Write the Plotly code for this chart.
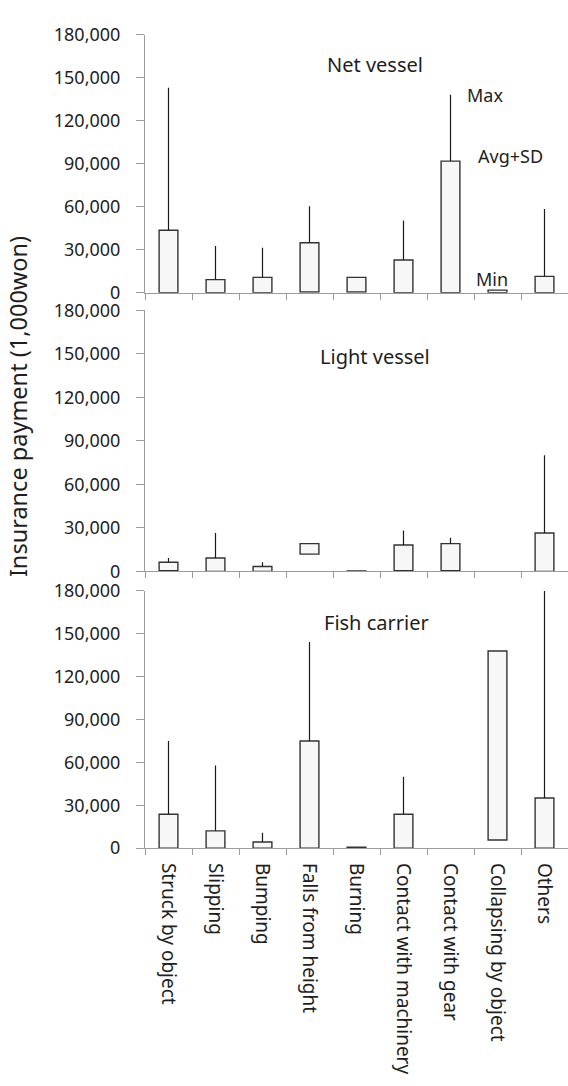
import plotly.graph_objects as go

categories = ["Struck by object", "Slipping", "Bumping", "Falls from height", "Burning",
              "Contact with machinery", "Contact with gear", "Collapsing by object", "Others"]

panel_titles = ["Net vessel", "Light vessel", "Fish carrier"]

# Net vessel
net_min = [0, 0, 0, 500, 500, 0, 0, 0, 0]
net_top = [43500, 9100, 10700, 34800, 10700, 22800, 91700, 1800, 11400]
net_max = [142900, 32500, 31400, 60300, None, 50300, 138000, None, 58300]

# Light vessel
light_min = [450, 0, 0, 11900, 0, 450, 450, None, 0]
light_top = [6300, 9200, 3400, 19100, 300, 18200, 19100, None, 26500]
light_max = [9200, 26500, 6300, None, None, 28100, 23200, None, 80100]

# Fish carrier
fish_min = [0, 0, 0, 0, 0, 0, None, 5700, 0]
fish_top = [23700, 12100, 4300, 75000, 700, 23700, None, 138000, 35100]
fish_max = [75000, 57900, 10700, 144200, None, 50000, None, None, 180000]

y_ticks = [0, 30000, 60000, 90000, 120000, 150000, 180000]

W, H = 568, 1086
FONT = "Noto Sans"
TXT = "#1e1e1e"
AX = "#9c9c9c"

panels = [(net_min, net_top, net_max), (light_min, light_top, light_max), (fish_min, fish_top, fish_max)]
# pixel positions (top, bottom) of each plot area
px = [(22, 286), (304, 571), (591, 854)]

fig = go.Figure()
for i, (mins, tops, maxs) in enumerate(panels):
    xa = "x" if i == 0 else f"x{i+1}"
    ya = "y" if i == 0 else f"y{i+1}"
    cx, cb, ch = [], [], []
    for c, lo, hi in zip(categories, mins, tops):
        if lo is None or hi is None:
            continue
        cx.append(c); cb.append(lo); ch.append(max(hi - lo, 250))
    fig.add_trace(go.Bar(x=cx, y=ch, base=cb, width=0.4, xaxis=xa, yaxis=ya,
                         marker=dict(color="#f7f7f7", line=dict(color="#333333", width=1.4)),
                         showlegend=False, hoverinfo="skip"))
    wx, wy = [], []
    for c, t, m in zip(categories, tops, maxs):
        if t is None or m is None:
            continue
        wx += [c, c, None]; wy += [t, m, None]
    fig.add_trace(go.Scatter(x=wx, y=wy, mode="lines", xaxis=xa, yaxis=ya,
                             line=dict(color="#1a1a1a", width=1.2),
                             showlegend=False, hoverinfo="skip"))

layout = dict(width=W, height=H, margin=dict(l=0, r=0, t=0, b=0),
              paper_bgcolor="white", plot_bgcolor="white",
              font=dict(family=FONT, size=18, color=TXT))

for i in range(3):
    top, bot = px[i]
    xk = "xaxis" if i == 0 else f"xaxis{i+1}"
    yk = "yaxis" if i == 0 else f"yaxis{i+1}"
    ya = "y" if i == 0 else f"y{i+1}"
    xa = "x" if i == 0 else f"x{i+1}"
    layout[xk] = dict(domain=[145 / W, 1.0], anchor=ya, type="category",
                      categoryorder="array", categoryarray=categories,
                      range=[-0.5, 8.5], showline=True, linecolor=AX, linewidth=1,
                      ticks="outside", tickson="boundaries", ticklen=6, tickcolor=AX,
                      showgrid=False, zeroline=False,
                      showticklabels=(i == 2), tickangle=90, ticklabelstandoff=10,
                      tickfont=dict(size=19, family=FONT, color=TXT))
    layout[yk] = dict(domain=[1 - bot / H, 1 - top / H], anchor=xa,
                      range=[0, 180000], tickvals=y_ticks,
                      ticktext=[f"{v:,}" for v in y_ticks],
                      showline=True, linecolor=AX, linewidth=1,
                      ticks="outside", ticklen=8, tickcolor=AX,
                      showgrid=False, zeroline=False, ticklabelstandoff=12,
                      tickfont=dict(size=18, family=FONT, color=TXT))

fig.update_layout(**layout)

ann = []
title_pos = [(375, 53), (375, 351), (376, 623)]
for t, (x, y) in zip(panel_titles, title_pos):
    ann.append(dict(text=t, x=x / W, y=1 - y / H, xref="paper", yref="paper",
                    xanchor="center", yanchor="middle",
                    showarrow=False, font=dict(size=20, family=FONT, color=TXT)))
for t, x, y in [("Max", 485, 84), ("Avg+SD", 510, 146), ("Min", 492, 272)]:
    ann.append(dict(text=t, x=x / W, y=1 - y / H, xref="paper", yref="paper",
                    xanchor="center", yanchor="middle",
                    showarrow=False, font=dict(size=18, family=FONT, color=TXT)))
ann.append(dict(text="Insurance payment (1,000won)", x=18 / W, y=1 - 403 / H,
                xref="paper", yref="paper", xanchor="center", yanchor="middle",
                showarrow=False, textangle=-90,
                font=dict(size=23.5, family=FONT, color=TXT)))
fig.update_layout(annotations=ann)

fig.write_html("out.html")
